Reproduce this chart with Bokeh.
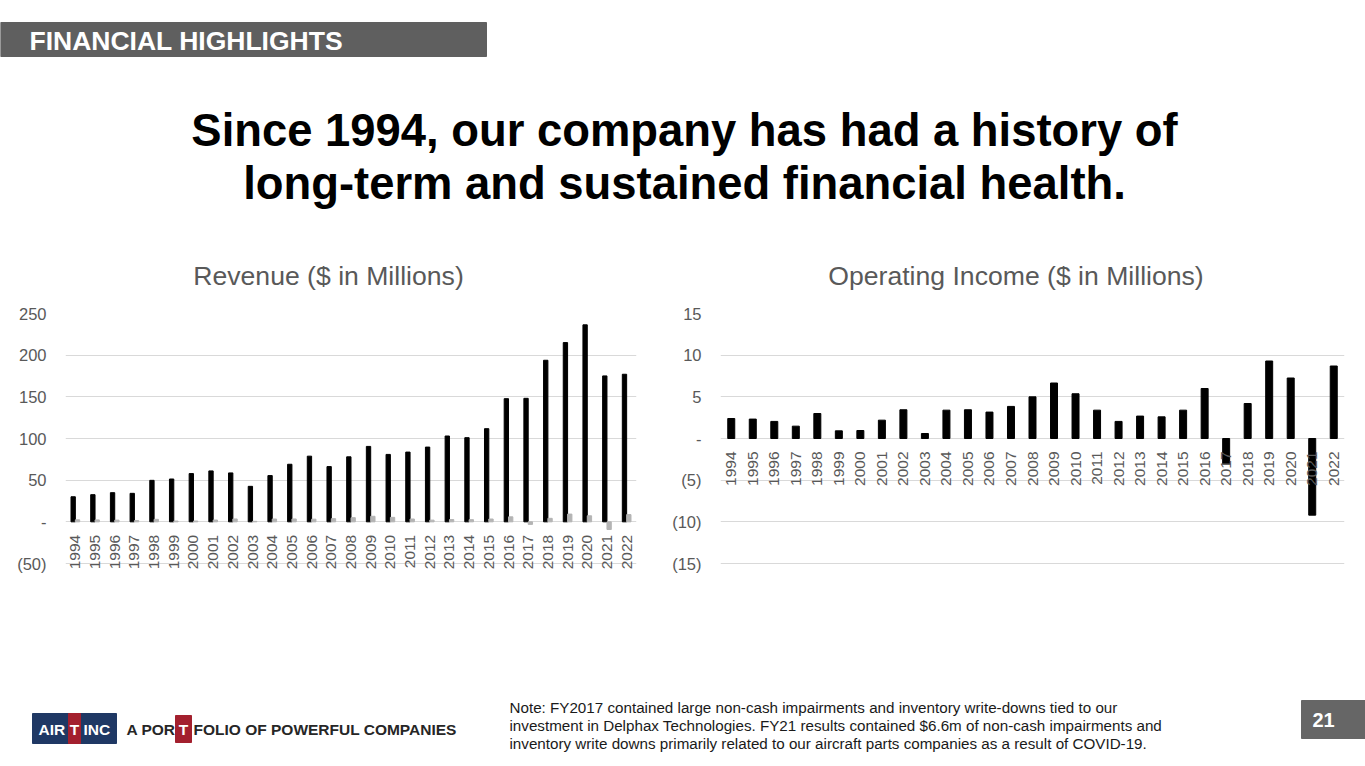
import math
from bokeh.plotting import figure
from bokeh.layouts import column, row
from bokeh.models import Range1d, FactorRange, FixedTicker, ColumnDataSource
from bokeh.transform import dodge
from bokeh.core.properties import value
from bokeh.embed import file_html
from bokeh.resources import INLINE

# ---------------- data ----------------
years = [str(y) for y in range(1994, 2023)]
revenue = [30.1, 32.6, 35.0, 34.2, 49.8, 51.4, 57.9, 61.1, 58.7, 42.6,
           55.5, 69.1, 78.8, 66.3, 78.0, 90.5, 80.9, 83.7, 89.7, 103.0,
           101.0, 111.8, 147.8, 148.2, 193.9, 215.1, 236.4, 175.1, 177.1]
op_income = [2.4, 2.33, 2.05, 1.48, 3.0, 0.92, 0.96, 2.2, 3.45, 0.6,
             3.4, 3.45, 3.17, 3.85, 5.0, 6.66, 5.37, 3.4, 2.05, 2.69,
             2.6, 3.4, 6.0, -3.05, 4.2, 9.3, 7.26, -9.2, 8.7]
rev_ticks = [-50, 0, 50, 100, 150, 200, 250]
rev_tick_labels = ["(50)", "-", "50", "100", "150", "200", "250"]
op_ticks = [-15, -10, -5, 0, 5, 10, 15]
op_tick_labels = ["(15)", "(10)", "(5)", "-", "5", "10", "15"]

header_text = "FINANCIAL HIGHLIGHTS"
title_lines = ["Since 1994, our company has had a history of",
               "long-term and sustained financial health."]
chart_titles = ["Revenue ($ in Millions)", "Operating Income ($ in Millions)"]
note_lines = [
    "Note: FY2017 contained large non-cash impairments and inventory write-downs tied to our",
    "investment in Delphax Technologies. FY21 results contained $6.6m of non-cash impairments and",
    "inventory write downs primarily related to our aircraft parts companies as a result of COVID-19.",
]
page_number = "21"

FONT = value("Liberation Sans")
GREY_TXT = "#595959"

src = ColumnDataSource(dict(year=years, revenue=revenue, op=op_income))


def canvas(height, y0, y1):
    p = figure(width=1365, height=height, x_range=Range1d(0, 1365),
               y_range=Range1d(y1, y0), x_axis_location=None, y_axis_location=None,
               min_border=0, toolbar_location=None, output_backend="svg")
    p.outline_line_color = None
    p.grid.grid_line_color = None
    p.background_fill_color = "white"
    p.border_fill_color = "white"
    return p


def chart(width, ml, mr, yr, ticks, labels):
    p = figure(width=width, height=304, x_range=FactorRange(*years),
               y_range=Range1d(*yr), x_axis_location=None,
               min_border_left=ml, min_border_right=mr, min_border_top=17,
               min_border_bottom=27, toolbar_location=None, output_backend="svg")
    p.outline_line_color = None
    p.background_fill_color = "white"
    p.border_fill_color = "white"
    p.xgrid.grid_line_color = None
    p.ygrid.ticker = FixedTicker(ticks=ticks)
    p.ygrid.grid_line_color = "#d9d9d9"
    p.ygrid.grid_line_width = 1
    ax = p.yaxis[0]
    ax.ticker = FixedTicker(ticks=ticks)
    ax.major_label_overrides = {t: l for t, l in zip(ticks, labels)}
    ax.axis_line_color = None
    ax.major_tick_line_color = None
    ax.minor_tick_line_color = None
    ax.major_tick_out = 0
    ax.major_label_standoff = 19
    ax.major_label_text_font = "Liberation Sans"
    ax.major_label_text_font_size = "16.5px"
    ax.major_label_text_color = GREY_TXT
    return p


# ---------------- revenue chart ----------------
left = chart(660, 65, 24, (-62, 250), rev_ticks, rev_tick_labels)
left.vbar(x=dodge("year", -0.11, range=left.x_range), top="revenue", width=0.22,
          source=src, color="black")
left.vbar(x=dodge("year", 0.11, range=left.x_range), top="op", width=0.22,
          source=src, color="#b4b4b4")
left.text(x="year", y=0, text="year", source=src, angle=math.pi / 2,
          text_align="right", text_baseline="middle", y_offset=13,
          text_font=FONT, text_font_size="15.5px", text_color=GREY_TXT)

# ---------------- operating income chart ----------------
right = chart(705, 60, 21, (-16.2, 15), op_ticks, op_tick_labels)
right.vbar(x="year", top="op", width=0.325, source=src, color="black")
right.text(x="year", y=0, text="year", source=src, angle=math.pi / 2,
           text_align="right", text_baseline="middle", y_offset=13,
           text_font=FONT, text_font_size="15.5px", text_color=GREY_TXT)

# ---------------- header / titles ----------------
head = canvas(296, 0, 296)
head.quad(left=[0], right=[486], top=[22], bottom=[56], color="#5f5f5f")
head.text(x=[29], y=[40], text=[header_text], text_font=FONT, text_font_size="26.5px",
          text_font_style="bold", text_color="white", text_align="left",
          text_baseline="middle")
head.text(x=[684, 684], y=[130, 183], text=title_lines, text_font=FONT,
          text_font_size="45.4px", text_font_style="bold", text_color="black",
          text_align="center", text_baseline="middle")
head.text(x=[328, 1015.5], y=[275.5, 275.5], text=chart_titles, text_font=FONT,
          text_font_size="26.6px", text_color=GREY_TXT, text_align="center",
          text_baseline="middle")

# ---------------- footer ----------------
foot = canvas(166, 600, 766)
foot.quad(left=[32], right=[116], top=[713], bottom=[743], color="#1f3864")
foot.quad(left=[68, 175], right=[80, 191], top=[713, 715], bottom=[743, 742],
          color="#a3202e")
foot.text(x=[38, 83], y=[729, 729], text=["AIR", "INC"], text_font=FONT,
          text_font_size="15.5px", text_font_style="bold", text_color="white",
          text_align="left", text_baseline="middle")
foot.text(x=[74, 183], y=[729, 729], text=["T", "T"], text_font=FONT,
          text_font_size="15.5px", text_font_style="bold", text_color="white",
          text_align="center", text_baseline="middle")
foot.text(x=[126, 193], y=[729, 729], text=["A POR", "FOLIO OF POWERFUL COMPANIES"],
          text_font=FONT, text_font_size="15.5px", text_font_style="bold",
          text_color="#262626", text_align="left", text_baseline="middle")
foot.text(x=[509, 509, 509], y=[707, 725, 743], text=note_lines, text_font=FONT,
          text_font_size="15.2px", text_color="#1a1a1a", text_align="left",
          text_baseline="middle")
foot.quad(left=[1301], right=[1365], top=[700], bottom=[738], color="#666666")
foot.text(x=[1312], y=[719], text=[page_number], text_font=FONT, text_font_size="20px",
          text_font_style="bold", text_color="white", text_align="left",
          text_baseline="middle")

layout = column(head, row(left, right, spacing=0), foot, spacing=0)
open("out.html", "w").write(file_html(layout, INLINE))
